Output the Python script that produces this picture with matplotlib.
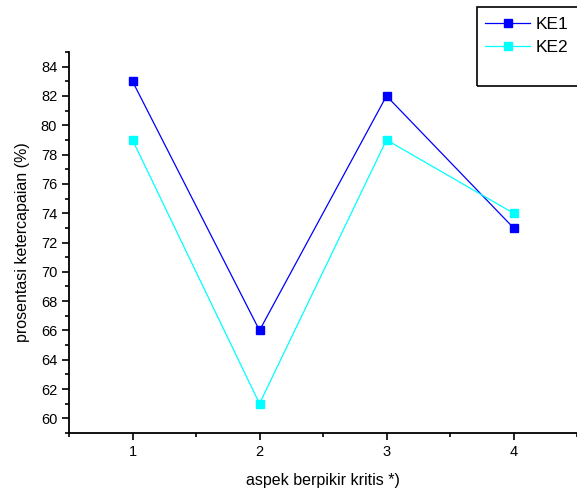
import matplotlib.pyplot as plt
import matplotlib.patches as patches
from matplotlib.ticker import MultipleLocator

plt.rcParams['font.family'] = ['Liberation Sans', 'DejaVu Sans']

aspek = [1, 2, 3, 4]
ke1 = [83, 66, 82, 73]
ke2 = [79, 61, 79, 74]
W, H = 577, 491

fig = plt.figure(figsize=(W / 100, H / 100), dpi=100)
ax = fig.add_axes([69 / W, 1 - 433 / H, 1 - 69 / W, (433 - 52) / H])

ax.plot(aspek, ke1, color='#0000FF', lw=0.9, marker='s', ms=6, label='KE1')
ax.plot(aspek, ke2, color='#00FFFF', lw=0.9, marker='s', ms=6, label='KE2')

ax.set_xlim(0.5, 4.5)
ax.set_ylim(59, 85)
ax.xaxis.set_major_locator(MultipleLocator(1))
ax.xaxis.set_minor_locator(MultipleLocator(0.5))
ax.yaxis.set_major_locator(MultipleLocator(2))
ax.yaxis.set_minor_locator(MultipleLocator(1))
ax.tick_params(which='major', direction='out', length=5, width=1.2, labelsize=10.5)
ax.tick_params(which='minor', direction='out', length=3, width=1.2)
for s in ['top', 'right']:
    ax.spines[s].set_visible(False)
for s in ['left', 'bottom']:
    ax.spines[s].set_linewidth(1.3)

ax.set_xlabel('aspek berpikir kritis *)', fontsize=11.5, labelpad=10)
ax.set_ylabel('prosentasi ketercapaian (%)', fontsize=11.5, labelpad=8)

# legend box running off the right edge
fig.patches.append(patches.Rectangle((477 / W, 1 - 86 / H), 110 / W, 79 / H,
                                     transform=fig.transFigure, fill=False,
                                     edgecolor='black', lw=1.2))
fig.legend(loc='upper left', bbox_to_anchor=(485 / W, 1 - 17 / H), frameon=False,
           fontsize=12.5, handlelength=2.6, handletextpad=0.3, labelspacing=0.45,
           borderpad=0, borderaxespad=0)

fig.savefig('out.png', dpi=100)
